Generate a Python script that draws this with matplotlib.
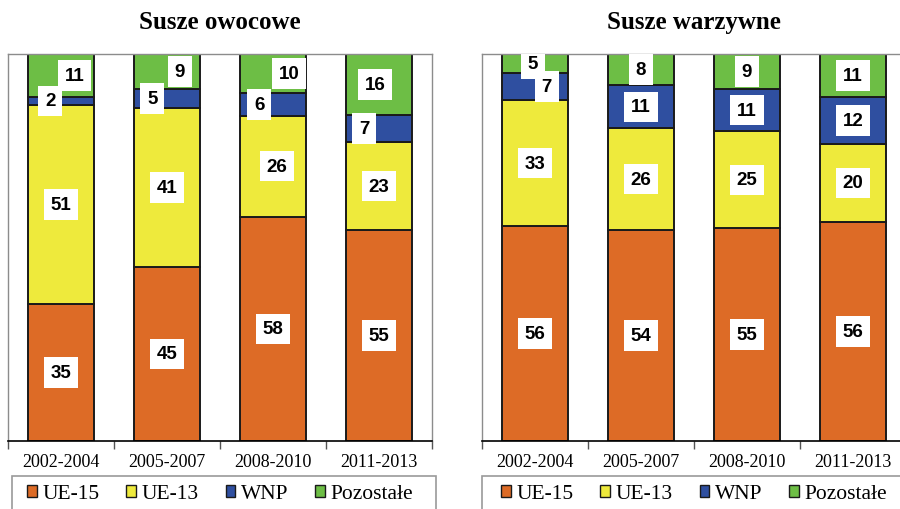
import numpy as np
import matplotlib
matplotlib.use("Agg")
import matplotlib.pyplot as plt
from matplotlib.patches import Patch, Rectangle

# Udział kierunków eksportu (%) - susze owocowe i warzywne
periods = ["2002-2004", "2005-2007", "2008-2010", "2011-2013"]
series_names = ["UE-15", "UE-13", "WNP", "Pozostałe"]

fruit_ue15 = [35, 45, 58, 55]
fruit_ue13 = [51, 41, 26, 23]
fruit_wnp = [2, 5, 6, 7]
fruit_other = [11, 9, 10, 16]

veg_ue15 = [56, 54, 55, 56]
veg_ue13 = [33, 26, 25, 20]
veg_wnp = [7, 11, 11, 12]
veg_other = [5, 8, 9, 11]

colors = ["#DD6B26", "#EEEA3C", "#2F4FA0", "#6DBE45"]

# horizontal nudges of data labels (category units), as placed by the spreadsheet
fruit_dx = [[0, 0, 0, 0], [0, 0, 0.04, 0],
            [-0.10, -0.14, -0.13, -0.14], [0.13, 0.12, 0.15, -0.04]]
veg_dx = [[0, 0, 0, 0], [0, 0, 0, 0],
          [0.11, 0, 0, 0], [-0.02, 0, 0, 0]]

serif = "Liberation Serif"
sans = "Liberation Sans"

W, H = 900, 510
fig = plt.figure(figsize=(W / 100, H / 100), dpi=100)


def draw_panel(rect, title, stacks, dx, box_x):
    ax = fig.add_axes(rect)
    x = np.arange(len(periods))
    data = np.array(stacks, dtype=float)
    totals = data.sum(axis=0)
    shares = data / totals * 100
    bottom = np.zeros(len(periods))
    for i, row in enumerate(shares):
        ax.bar(x, row, 0.63, bottom=bottom, color=colors[i],
               edgecolor="#1a1a1a", linewidth=1.4, zorder=2)
        for j in range(len(periods)):
            ax.text(x[j] + dx[i][j], bottom[j] + row[j] / 2, str(stacks[i][j]),
                    ha="center", va="center", fontsize=13.5,
                    fontweight="bold", family=sans, zorder=5, clip_on=True,
                    bbox=dict(boxstyle="square,pad=0.36", fc="white", ec="none"))
        bottom += row

    ax.set_xlim(-0.5, len(periods) - 0.5)
    ax.set_ylim(0, 100)
    ax.set_yticks([])
    ax.set_xticks(x)
    ax.set_xticklabels(periods, fontsize=13, family=serif)
    ax.set_xticks(np.arange(-0.5, len(periods)), minor=True)
    ax.tick_params(axis="x", which="major", length=0, pad=9)
    ax.tick_params(axis="x", which="minor", length=6, width=1, color="#555555")
    for side in ("left", "top", "right"):
        ax.spines[side].set_color("#8c8c8c")
        ax.spines[side].set_linewidth(1)
    ax.spines["bottom"].set_color("black")
    ax.spines["bottom"].set_linewidth(1.2)
    ax.set_title(title, fontsize=18, fontweight="bold", family=serif, pad=19)

    # legend frame runs off the bottom of the figure
    fig.patches.append(Rectangle((box_x / W, -0.05), 424 / W, 0.05 + (H - 477) / H,
                                 transform=fig.transFigure, fill=False,
                                 edgecolor="#9a9a9a", linewidth=1.2))
    handles = [Patch(facecolor=c, edgecolor="#1a1a1a", linewidth=1)
               for c in colors]
    fig.legend(handles, series_names, loc="center",
               bbox_to_anchor=((rect[0] + rect[2] / 2), 1 - 495 / H),
               bbox_transform=fig.transFigure, ncol=4, frameon=False,
               prop={"family": serif, "size": 15.5}, handlelength=0.45,
               handleheight=0.45, handletextpad=0.25, columnspacing=1.25,
               borderpad=0, borderaxespad=0)
    return ax


ax_h = 387 / H
ax_y = (H - 442) / H
ax_w = 424 / W

draw_panel([8 / W, ax_y, ax_w, ax_h], "Susze owocowe",
           [fruit_ue15, fruit_ue13, fruit_wnp, fruit_other], fruit_dx, 12)
draw_panel([482 / W, ax_y, ax_w, ax_h], "Susze warzywne",
           [veg_ue15, veg_ue13, veg_wnp, veg_other], veg_dx, 482)

fig.savefig("out.png", dpi=100)
